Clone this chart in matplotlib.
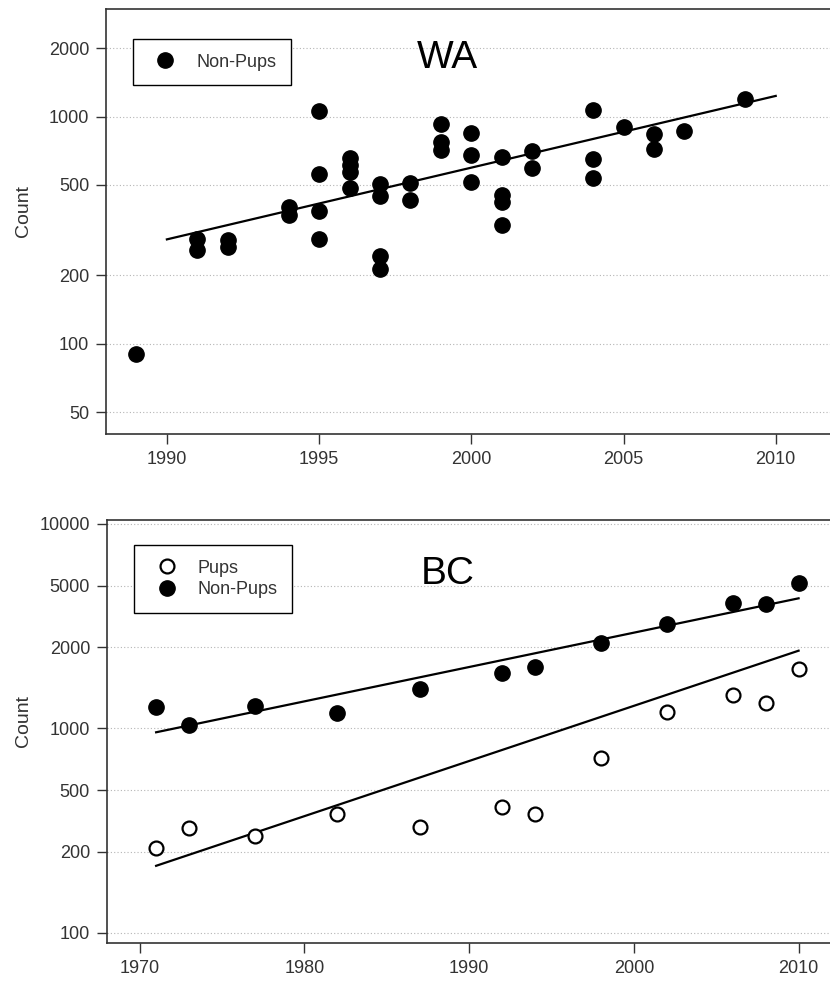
import numpy as np
import matplotlib.pyplot as plt
from matplotlib.ticker import NullLocator

plt.rcParams['font.family'] = ['Liberation Sans', 'DejaVu Sans']

# Washington: non-pup counts by survey year
wa_years = [1989, 1991, 1991, 1992, 1992, 1994, 1994, 1995, 1995, 1995, 1995,
            1996, 1996, 1996, 1996, 1997, 1997, 1997, 1997, 1998, 1998,
            1999, 1999, 1999, 2000, 2000, 2000, 2001, 2001, 2001, 2001,
            2002, 2002, 2004, 2004, 2004, 2005, 2006, 2006, 2007, 2009]
wa_counts = [90, 290, 258, 285, 267, 400, 368, 1063, 557, 385, 288,
             655, 612, 572, 483, 505, 447, 243, 213, 512, 429,
             929, 776, 713, 845, 678, 517, 666, 454, 422, 333,
             706, 596, 1071, 651, 535, 898, 836, 718, 865, 1197]
wa_fit_years = [1990, 2010]
wa_fit_counts = [288, 1234]

# British Columbia: pups and non-pups
bc_years = [1971, 1973, 1977, 1982, 1987, 1992, 1994, 1998, 2002, 2006, 2008, 2010]
bc_pups = [260, 325, 298, 382, 331, 415, 382, 715, 1208, 1453, 1337, 1954]
bc_nonpups = [1270, 1040, 1293, 1195, 1560, 1875, 2005, 2628, 3232, 4095, 4063, 5129]
bc_fit_years = [1971, 2010]
bc_fit_pups = [213, 2401]
bc_fit_nonpups = [958, 4330]

wa_yticks = [50, 100, 200, 500, 1000, 2000]
wa_xticks = [1990, 1995, 2000, 2005, 2010]
bc_yticks = [100, 250, 500, 1000, 2500, 5000, 10000]
bc_ylabels = ['100', '200', '500', '1000', '2000', '5000', '10000']
bc_xticks = [1970, 1980, 1990, 2000, 2010]

W, H = 830, 981
fig = plt.figure(figsize=(W / 100, H / 100), dpi=100, facecolor='white')


def px_axes(l, t, r, b):
    return fig.add_axes([l / W, 1 - b / H, (r - l) / W, (b - t) / H])


def style(ax, yticks, ylabels, xticks, label_x):
    ax.set_yscale('log')
    ax.set_yticks(yticks)
    ax.set_yticklabels(ylabels)
    ax.yaxis.set_minor_locator(NullLocator())
    ax.set_xticks(xticks)
    ax.yaxis.grid(True, linestyle=(0, (1, 2)), color='#b5b5b5', lw=0.8)
    ax.set_axisbelow(True)
    ax.tick_params(direction='out', length=7, width=1, color='#333333',
                   labelsize=13, labelcolor='#333333', pad=5)
    for s in ax.spines.values():
        s.set_linewidth(1.2)
        s.set_color('#333333')
    ax.spines['right'].set_visible(False)
    ax.set_ylabel('Count', fontsize=14, color='#333333')
    ax.yaxis.set_label_coords(label_x, 0.525)


# top panel: WA
ax1 = px_axes(106, 9, 836.6, 434)
ax1.plot(wa_fit_years, wa_fit_counts, color='black', lw=1.6, zorder=2)
ax1.plot(wa_years, wa_counts, 'o', color='black', ms=11, ls='none',
         label='Non-Pups', zorder=3)
ax1.set_xlim(1988, 2012)
ax1.set_ylim(40, 2980)
style(ax1, wa_yticks, [str(v) for v in wa_yticks], wa_xticks, -0.101)
ax1.text(0.4257, 0.8605, 'WA', transform=ax1.transAxes, fontsize=28,
         ha='left', va='baseline')
ax1.legend(loc='upper left', bbox_to_anchor=(0.0365, 0.9287), fontsize=13,
           frameon=True, fancybox=False, edgecolor='black', framealpha=1,
           borderpad=0.8, handlelength=2.0, handletextpad=0.72,
           borderaxespad=0, numpoints=1, labelcolor='#333333')

# bottom panel: BC
ax2 = px_axes(106.7, 520, 834, 943.3)
ax2.plot(bc_fit_years, bc_fit_nonpups, color='black', lw=1.6, zorder=2)
ax2.plot(bc_fit_years, bc_fit_pups, color='black', lw=1.6, zorder=2)
ax2.plot(bc_years, bc_pups, 'o', mfc='white', mec='black', mew=1.6, ms=10,
         ls='none', label='Pups', zorder=3)
ax2.plot(bc_years, bc_nonpups, 'o', color='black', ms=11, ls='none',
         label='Non-Pups', zorder=3)
ax2.set_xlim(1968, 2012.15)
ax2.set_ylim(89, 10460)
style(ax2, bc_yticks, bc_ylabels, bc_xticks, -0.103)
ax2.text(0.432, 0.848, 'BC', transform=ax2.transAxes, fontsize=28,
         ha='left', va='baseline')
ax2.legend(loc='upper left', bbox_to_anchor=(0.0376, 0.9407), fontsize=13,
           frameon=True, fancybox=False, edgecolor='black', framealpha=1,
           borderpad=0.8, handlelength=2.0, handletextpad=0.72,
           labelspacing=0.25, borderaxespad=0, numpoints=1,
           labelcolor='#333333')

fig.savefig('out.png', dpi=100, facecolor='white')
